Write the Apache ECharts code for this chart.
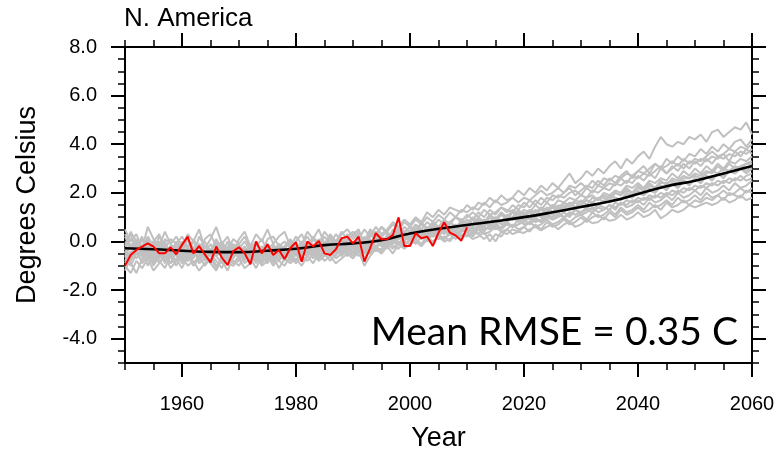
<!DOCTYPE html>
<html>
<head>
<meta charset="utf-8">
<script src="https://cdn.jsdelivr.net/npm/echarts@6/dist/echarts.min.js"></script>
<style>
  html, body { margin: 0; padding: 0; background: #fff; }
  #chart { width: 778px; height: 452px; }
</style>
</head>
<body>
<div id="chart"></div>
<script>
// observed annual anomaly, 1950-2010
const obsStart = 1950;
const obsValues = [
  -1.0, -0.56, -0.35, -0.21, -0.08, -0.21, -0.49, -0.49, -0.24, -0.53,
  -0.14, 0.2, -0.49, -0.19, -0.53, -0.86, -0.21, -0.67, -0.97, -0.4,
  -0.24, -0.49, -0.94, 0.0, -0.49, -0.12, -0.56, -0.35, -0.72, -0.28,
  -0.03, -0.83, 0.0, -0.21, 0.02, -0.49, -0.56, -0.32, 0.13, 0.2,
  -0.08, 0.2, -0.83, -0.28, 0.34, 0.09, 0.09, 0.27, 0.99, -0.19,
  -0.19, 0.34, 0.13, 0.2, -0.19, 0.36, 0.79, 0.36, 0.25, 0.03,
  0.58
];

// ensemble mean, every 5 years
const meanYears = [1950, 1955, 1960, 1965, 1970, 1975, 1980, 1985, 1990, 1995, 2000, 2005,
  2010, 2015, 2020, 2025, 2030, 2035, 2040, 2045, 2050, 2055, 2060];
const meanValues = [-0.28, -0.32, -0.38, -0.43, -0.44, -0.38, -0.3, -0.15, -0.08, 0.05, 0.33, 0.52,
  0.68, 0.83, 1.0, 1.2, 1.42, 1.64, 1.95, 2.27, 2.5, 2.8, 3.1];

// model members, annual 1950-2060
const memberStart = 1950;
const member01 = [
  -0.1,0.3,-0.4,-0.2,0.1,-0.5,-0.3,0.0,-0.6,-0.2, -0.5,0.1,-0.3,-0.7,-0.2,-0.4,0.0,-0.6,-0.3,-0.5,
  -0.2,-0.6,-0.1,-0.4,-0.8,-0.3,-0.1,-0.5,-0.2,0.1, -0.3,0.0,-0.4,0.1,-0.2,0.2,-0.1,0.3,0.0,0.2,
  0.4,0.1,0.5,0.2,0.6,0.3,0.5,0.8,0.6,0.9, 0.7,1.0,0.8,1.2,1.0,1.3,1.1,1.4,1.3,1.2,
  1.5,1.3,1.6,1.5,1.8,1.6,1.9,1.7,1.8,2.1, 1.9,2.2,2.0,2.3,2.1,2.4,2.2,2.5,2.8,2.4,
  2.6,2.9,2.7,3.0,2.8,3.1,3.3,3.0,3.4,3.2, 3.5,3.7,3.4,3.9,4.3,4.0,3.9,4.1,4.0,4.3,
  4.2,4.4,4.1,4.5,4.6,4.3,4.5,4.7,4.6,4.9, 4.4
];
const member02 = [
  -0.6,-0.2,-0.5,0.1,-0.3,-0.1,-0.7,-0.4,-0.2,-0.5, -0.1,-0.6,-0.4,-0.2,-0.8,-0.5,-0.3,-0.1,-0.6,-0.4,
  -0.7,-0.3,-0.5,-0.9,-0.2,-0.6,-0.4,-0.1,-0.5,-0.3, -0.5,-0.2,0.0,-0.4,-0.1,-0.3,0.1,-0.2,-0.4,0.0,
  -0.2,0.1,-0.1,0.3,0.0,0.2,0.4,0.1,0.5,0.3, 0.6,0.4,0.7,0.5,0.8,0.6,0.9,0.7,1.0,0.8,
  1.1,0.9,1.2,1.0,1.3,1.1,1.4,1.3,1.2,1.5, 1.4,1.7,1.5,1.8,1.6,1.9,1.8,2.0,2.2,1.9,
  2.1,2.3,2.2,2.5,2.3,2.6,2.4,2.7,2.9,2.6, 2.9,3.1,2.8,3.2,3.0,3.4,3.2,3.5,3.3,3.6,
  3.5,3.8,3.6,3.9,3.7,4.0,3.8,4.1,4.2,3.9, 4.2
];
const member03 = [
  0.2,-0.3,-0.1,-0.6,-0.3,0.0,-0.4,-0.8,-0.3,-0.1, -0.4,-0.7,0.1,-0.3,-0.5,-0.9,-0.4,-0.2,-0.6,-0.3,
  -0.5,-0.2,-0.8,-0.4,-0.6,-0.2,-0.7,-0.3,-0.5,-0.6, -0.2,-0.5,-0.3,-0.6,0.0,-0.3,-0.5,-0.1,0.1,-0.3,
  0.0,-0.3,0.2,-0.1,0.1,-0.2,0.3,0.0,0.4,0.2, 0.3,0.6,0.4,0.3,0.7,0.5,0.4,0.8,0.6,0.7,
  0.9,0.7,1.0,0.8,1.1,0.9,1.2,1.0,1.3,1.1, 1.3,1.2,1.5,1.3,1.6,1.4,1.7,1.6,1.8,1.7,
  1.9,1.8,2.1,2.0,2.2,2.1,2.4,2.3,2.5,2.4, 2.7,2.5,2.8,2.6,3.0,2.8,3.1,2.9,3.2,3.0,
  3.3,3.1,3.4,3.2,3.5,3.4,3.6,3.5,3.7,3.6, 3.8
];
const member04 = [
  -0.8,-0.4,-0.7,-0.3,-1.0,-0.5,-0.2,-0.6,-0.9,-0.4, -0.7,-0.3,-0.9,-0.6,-0.2,-0.5,-0.8,-1.1,-0.5,-0.7,
  -0.3,-0.6,-0.4,-0.7,-0.2,-0.5,-0.9,-0.4,-0.6,-0.2, -0.4,-0.7,-0.3,-0.5,-0.2,-0.6,-0.3,0.0,-0.4,-0.1,
  -0.3,0.0,-0.2,-0.4,0.1,-0.1,0.2,0.0,0.3,0.1, 0.4,0.2,0.5,0.3,0.6,0.4,0.7,0.5,0.4,0.8,
  0.6,0.9,0.7,0.6,1.0,0.8,1.1,0.9,1.2,1.0, 1.1,1.3,1.2,1.4,1.3,1.5,1.4,1.6,1.5,1.7,
  1.6,1.8,1.9,1.7,2.0,1.9,2.1,2.0,2.3,2.2, 2.4,2.2,2.5,2.4,2.6,2.5,2.8,2.6,2.9,2.7,
  3.0,2.8,3.1,2.9,3.2,3.0,3.3,3.2,3.4,3.3, 3.5
];
const member05 = [
  -0.3,-0.7,0.0,-0.5,-0.2,-0.8,-0.4,-0.1,-0.5,-0.8, -0.2,-0.5,-0.7,-0.1,-0.4,-0.6,-0.3,-0.5,0.0,-0.6,
  -0.4,-0.8,-0.3,-0.1,-0.5,-0.7,-0.2,-0.6,-0.4,-0.7, -0.1,-0.4,-0.6,-0.2,-0.5,0.0,-0.4,-0.2,-0.5,-0.2,
  -0.4,-0.1,-0.3,0.1,-0.2,0.0,-0.1,0.3,0.1,0.4, 0.2,0.5,0.3,0.6,0.4,0.3,0.6,0.4,0.7,0.5,
  0.8,0.6,0.8,0.9,0.7,1.0,0.8,1.1,0.9,1.0, 1.2,1.0,1.3,1.1,1.4,1.2,1.5,1.3,1.6,1.4,
  1.7,1.5,1.8,1.7,1.9,1.8,2.0,1.9,2.2,2.0, 2.3,2.1,2.4,2.2,2.5,2.3,2.6,2.5,2.7,2.6,
  2.8,2.7,2.9,2.8,3.1,2.9,3.2,3.0,3.1,3.2, 3.3
];
const member06 = [
  -0.5,-0.1,-0.4,-0.8,-0.3,-0.6,0.0,-0.3,-0.7,-0.2, -0.6,-0.4,-0.2,-0.8,-0.5,-0.1,-0.6,-0.4,-0.8,-0.2,
  -0.6,-0.4,-0.7,-0.5,-0.3,-0.8,-0.5,-0.2,-0.7,-0.4, -0.6,-0.3,-0.1,-0.5,-0.3,-0.4,-0.1,-0.4,-0.2,-0.5,
  -0.1,-0.3,0.0,-0.2,0.2,-0.1,0.1,-0.1,0.2,0.0, 0.3,0.1,0.4,0.2,0.3,0.5,0.3,0.6,0.5,0.4,
  0.7,0.5,0.6,0.8,0.6,0.9,0.7,0.8,1.0,0.8, 1.0,0.9,1.1,1.0,1.2,1.1,1.3,1.2,1.4,1.3,
  1.5,1.4,1.6,1.5,1.7,1.6,1.8,1.7,1.9,1.8, 2.0,1.9,2.1,2.0,2.3,2.1,2.4,2.2,2.5,2.3,
  2.6,2.4,2.7,2.5,2.8,2.6,2.9,2.8,3.0,2.9, 3.1
];
const member07 = [
  -0.9,-0.5,-0.2,-0.6,-0.4,-0.9,-0.5,-0.3,-0.6,-1.0, -0.5,-0.8,-0.4,-0.6,-1.0,-0.7,-0.5,-0.3,-0.7,-0.9,
  -0.8,-0.5,-0.9,-0.6,-0.4,-0.7,-0.3,-0.8,-0.5,-0.6, -0.3,-0.6,-0.4,-0.7,-0.4,-0.2,-0.5,-0.3,-0.6,-0.3,
  -0.5,-0.2,-0.4,-0.1,-0.3,0.1,-0.2,0.0,-0.1,0.2, 0.0,0.3,0.1,0.4,0.2,0.3,0.1,0.4,0.3,0.5,
  0.4,0.6,0.3,0.6,0.5,0.7,0.5,0.8,0.6,0.7, 0.9,0.7,0.9,0.8,1.0,0.9,1.1,1.0,1.2,1.1,
  1.2,1.3,1.2,1.4,1.3,1.5,1.4,1.6,1.5,1.7, 1.6,1.8,1.7,1.9,1.8,2.0,1.9,2.1,2.0,2.2,
  2.1,2.3,2.2,2.4,2.3,2.5,2.4,2.6,2.5,2.7, 2.8
];
const member08 = [
  0.3,-0.2,0.1,-0.3,0.0,-0.4,0.2,-0.2,-0.5,0.0, -0.3,0.1,-0.5,-0.2,0.0,-0.4,-0.1,-0.5,-0.2,-0.4,
  -0.1,-0.5,-0.2,-0.6,-0.3,-0.1,-0.4,-0.6,-0.2,-0.5, -0.2,-0.4,-0.1,-0.3,0.1,-0.2,-0.4,-0.1,-0.3,0.1,
  -0.1,0.2,0.0,-0.2,0.3,0.1,-0.1,0.2,0.4,0.1, 0.3,0.2,0.5,0.3,0.2,0.5,0.4,0.6,0.3,0.5,
  0.6,0.4,0.7,0.5,0.6,0.8,0.5,0.7,0.6,0.9, 0.7,0.8,1.0,0.8,1.1,0.9,1.0,1.2,1.0,1.3,
  1.1,1.2,1.4,1.2,1.3,1.5,1.3,1.6,1.4,1.5, 1.7,1.5,1.8,1.6,1.7,1.9,1.7,2.0,1.8,1.9,
  2.1,1.9,2.2,2.0,2.1,2.3,2.1,2.4,2.2,2.3, 2.5
];
const member09 = [
  -1.2,-0.7,-0.4,-0.9,-0.6,-0.3,-0.8,-1.1,-0.6,-0.4, -0.9,-0.6,-1.0,-0.7,-0.4,-0.9,-1.2,-0.7,-0.5,-0.8,
  -1.0,-0.6,-0.8,-0.5,-0.9,-0.6,-1.0,-0.7,-0.4,-0.8, -0.5,-0.8,-0.6,-0.3,-0.7,-0.5,-0.8,-0.5,-0.3,-0.6,
  -0.4,-0.6,-0.3,-0.5,-0.2,-0.4,-0.1,-0.3,0.0,-0.2, 0.1,-0.1,0.2,0.0,0.3,0.1,0.2,0.0,0.3,0.2,
  0.4,0.2,0.5,0.3,0.4,0.6,0.4,0.5,0.7,0.5, 0.6,0.8,0.6,0.7,0.9,0.7,0.8,1.0,0.8,1.0,
  1.1,0.9,1.2,1.0,1.1,1.3,1.1,1.4,1.2,1.3, 1.5,1.3,1.6,1.4,1.5,1.7,1.5,1.8,1.6,1.7,
  1.9,1.7,2.0,1.8,1.9,2.1,1.9,2.0,2.2,2.0, 2.2
];
const member10 = [
  -0.4,-0.9,-1.3,-0.7,-0.5,-1.0,-0.6,-0.4,-0.9,-0.7, -1.1,-0.6,-0.3,-0.9,-0.7,-0.5,-1.0,-0.8,-1.2,-0.6,
  -0.4,-0.9,-0.7,-1.1,-0.6,-0.9,-0.5,-0.8,-1.0,-0.6, -0.9,-0.6,-0.8,-0.5,-0.8,-0.6,-0.4,-0.7,-0.5,-0.4,
  -0.6,-0.3,-0.5,-0.2,-0.4,-0.3,0.0,-0.2,-0.3,0.0, -0.1,0.1,-0.1,0.2,0.0,0.2,0.1,0.3,0.1,0.3,
  0.2,0.4,0.3,0.1,0.3,0.0,0.4,0.3,0.5,0.4, 0.35,0.5,0.6,0.45,0.6,0.7,0.5,0.7,0.8,0.6,
  0.7,0.9,0.75,0.8,1.0,0.85,0.9,1.1,0.9,1.0, 1.2,1.0,1.1,1.3,0.95,1.1,1.3,1.2,1.3,1.5,
  1.4,1.5,1.6,1.5,1.6,1.8,1.6,1.7,1.9,1.7, 1.8
];
const member11 = [
  -0.2,0.4,0.0,-0.4,0.2,-0.2,-0.5,0.1,-0.1,-0.4, 0.0,-0.3,-0.6,0.2,-0.2,-0.4,0.1,-0.3,-0.5,-0.1,
  -0.3,0.0,-0.4,-0.2,0.1,-0.4,-0.6,-0.1,-0.3,0.0, -0.4,-0.1,0.2,-0.2,0.0,-0.3,0.2,0.0,-0.2,0.3,
  0.1,0.3,-0.1,0.2,0.4,0.2,0.0,0.5,0.3,0.6, 0.4,0.7,0.5,0.8,0.6,0.9,0.7,0.8,1.0,0.9,
  1.0,1.2,1.0,1.3,1.1,1.2,1.4,1.2,1.5,1.3, 1.6,1.4,1.7,1.5,1.8,1.7,1.9,1.8,2.0,2.1,
  1.9,2.2,2.0,2.3,2.2,2.4,2.3,2.6,2.4,2.7, 2.6,2.8,2.7,2.9,3.1,2.8,3.0,3.2,3.0,3.3,
  3.2,3.4,3.3,3.5,3.4,3.6,3.3,3.7,3.5,3.8, 3.6
];
const member12 = [
  -0.6,-1.0,-0.5,-0.2,-0.7,-0.4,-0.9,-0.5,-0.2,-0.6, -0.8,-0.2,-0.5,-0.4,-0.7,-0.3,-0.6,-0.9,-0.4,-0.2,
  -0.5,-0.7,-0.4,-0.3,-0.6,-0.2,-0.5,-0.4,-0.8,-0.3, -0.5,-0.2,-0.5,-0.1,-0.6,-0.4,-0.2,-0.5,-0.1,-0.3,
  -0.2,-0.4,0.1,-0.3,0.0,-0.2,0.2,-0.1,0.1,0.3, 0.1,0.3,0.2,0.1,0.4,0.2,0.5,0.3,0.2,0.4,
  0.5,0.3,0.6,0.4,0.7,0.5,0.6,0.8,0.6,0.7, 0.8,1.0,0.8,0.9,1.1,1.0,1.2,1.0,1.1,1.3,
  1.2,1.4,1.3,1.5,1.4,1.3,1.6,1.5,1.7,1.6, 1.8,1.7,1.9,1.8,2.0,1.9,2.1,2.0,2.2,2.1,
  2.3,2.2,2.4,2.3,2.5,2.4,2.6,2.5,2.7,2.5, 2.6
];
const member13 = [
  0.5,0.0,0.3,-0.3,0.6,0.1,-0.2,0.4,-0.1,0.2, -0.2,0.3,0.0,0.5,-0.3,0.1,0.6,-0.1,0.2,-0.4,
  0.1,0.4,-0.2,0.3,0.0,0.5,-0.1,0.2,0.4,-0.2, 0.2,-0.1,0.4,0.1,0.5,-0.1,0.3,0.0,0.4,0.1,
  0.3,0.5,-0.2,0.4,0.2,0.6,0.3,0.1,0.6,0.4, 0.6,0.4,0.8,0.5,0.7,0.4,0.8,0.6,0.5,0.9,
  0.7,1.0,0.8,0.7,1.1,0.9,1.2,0.9,1.0,1.3, 1.1,1.2,1.0,1.4,1.2,1.5,1.3,1.4,1.6,1.4,
  1.5,1.7,1.6,1.8,1.6,1.9,1.8,1.7,2.0,1.9, 2.1,1.9,2.2,2.0,2.3,2.2,2.4,2.2,2.5,2.4,
  2.6,2.4,2.7,2.6,2.8,2.7,2.9,2.8,3.0,2.8, 3.0
];
const member14 = [
  -1.0,-1.3,-0.8,-1.1,-0.7,-1.2,-0.9,-0.6,-1.1,-0.8, -0.6,-1.0,-0.8,-1.2,-0.9,-0.7,-1.1,-0.6,-0.9,-1.0,
  -0.7,-1.1,-0.9,-0.6,-1.0,-0.8,-0.6,-1.1,-0.7,-0.9, -0.7,-1.0,-0.6,-0.9,-0.5,-0.8,-0.6,-0.9,-0.7,-0.5,
  -0.7,-0.4,-1.0,-0.6,-0.3,-0.5,-0.2,-0.5,-0.1,-0.3, -0.1,0.0,-0.2,0.1,-0.1,0.2,0.0,0.1,0.3,0.1,
  0.3,0.1,0.2,0.4,0.0,0.3,0.2,0.5,0.3,0.4, 0.6,0.4,0.7,0.5,0.8,0.6,0.7,0.9,0.7,0.8,
  1.0,0.8,1.0,1.1,0.9,1.2,1.0,1.3,1.1,1.2, 1.4,1.2,1.3,1.5,1.3,1.6,1.4,1.5,1.7,1.5,
  1.7,1.6,1.8,1.7,1.9,1.7,2.0,1.9,1.8,2.1, 2.0
];
const member15 = [
  -0.3,0.1,-0.2,0.2,-0.4,0.0,0.3,-0.3,0.1,-0.1, 0.2,-0.2,0.0,-0.5,0.1,0.3,-0.2,0.0,-0.4,0.1,
  -0.1,0.2,-0.3,0.0,-0.5,0.1,0.2,-0.2,0.0,-0.3, 0.0,0.3,-0.2,0.2,-0.1,0.4,0.1,-0.1,0.3,0.5,
  0.2,0.4,0.0,0.5,0.3,0.6,0.4,0.7,0.5,0.8, 0.6,0.9,0.7,1.0,0.8,1.1,0.9,1.2,1.0,1.3,
  1.2,1.4,1.3,1.6,1.4,1.7,1.5,1.6,1.8,1.6, 1.8,1.7,1.9,2.1,1.9,2.0,2.2,2.0,2.3,2.2,
  2.4,2.2,2.5,2.3,2.6,2.5,2.7,2.6,2.8,2.7, 2.9,2.8,3.0,3.2,3.0,3.1,3.3,3.1,3.4,3.2,
  3.4,3.3,3.5,3.7,3.5,3.6,3.8,3.7,3.9,3.8, 4.0
];
const member16 = [
  -0.4,-0.8,-0.3,-0.6,-0.1,-0.7,-0.4,-0.9,-0.3,-0.5, -0.3,-0.8,-0.5,-0.2,-0.6,-0.8,-0.3,-0.6,-0.4,-0.9,
  -0.6,-0.2,-0.6,-0.8,-0.4,-0.5,-0.8,-0.3,-0.6,-0.5, -0.8,-0.4,-0.6,-0.3,-0.7,-0.2,-0.5,-0.6,-0.2,-0.4,
  -0.1,-0.4,-0.7,-0.2,-0.3,0.0,-0.3,0.1,-0.1,0.1, 0.2,0.4,0.2,0.5,0.3,0.6,0.4,0.3,0.6,0.5,
  0.7,0.6,0.9,0.7,0.8,1.0,0.8,1.1,0.9,1.2, 1.0,1.2,1.1,1.3,1.2,1.4,1.3,1.5,1.4,1.6,
  1.5,1.7,1.6,1.8,1.8,1.7,2.0,1.9,2.1,2.0, 2.2,2.1,2.3,2.2,2.4,2.4,2.5,2.4,2.6,2.6,
  2.7,2.6,2.8,2.9,2.8,3.0,2.9,3.1,3.0,3.2, 3.2
];
const members = [member01, member02, member03, member04, member05, member06, member07, member08,
  member09, member10, member11, member12, member13, member14, member15, member16];

// axis ticks
const xMajorTicks = [1960, 1980, 2000, 2020, 2040, 2060];
const yMajorTicks = [-4, -2, 0, 2, 4, 6, 8];

const chart = echarts.init(document.getElementById('chart'));
const labelFont = "'Liberation Sans', Arial, Helvetica, sans-serif";

function pairs(start, values) {
  return values.map((v, i) => [start + i, v]);
}

function minorAxis(pos, extra) {
  return Object.assign({
    type: 'value', position: pos,
    axisLine: { show: true, onZero: false, lineStyle: { color: '#000', width: 2 } },
    axisTick: { show: true, length: 7, lineStyle: { color: '#000', width: 1.5 } },
    axisLabel: { show: false },
    splitLine: { show: false }
  }, extra);
}

function majorAxis(pos, ticks, showLabel, fmt, margin, extra) {
  return Object.assign({
    type: 'value', position: pos,
    axisLine: { show: false, onZero: false },
    axisTick: { show: true, customValues: ticks, length: 14, lineStyle: { color: '#000', width: 2 } },
    axisLabel: {
      show: showLabel, customValues: ticks, formatter: fmt, margin: margin,
      color: '#000', fontSize: 20, fontFamily: labelFont
    },
    splitLine: { show: false }
  }, extra);
}

const xRange = { min: 1950, max: 2060 };
const yRange = { min: -5, max: 8 };
const nameStyle = { color: '#000', fontSize: 27, fontFamily: labelFont };

const graySeries = members.map((m) => ({
  type: 'line', data: pairs(memberStart, m),
  showSymbol: false, silent: true,
  lineStyle: { color: '#c0c0c0', width: 2 },
  z: 1
}));

chart.setOption({
  animation: false,
  backgroundColor: '#fff',
  grid: { left: 125, right: 26, top: 47, bottom: 89, outerBoundsMode: 'none' },
  xAxis: [
    minorAxis('bottom', Object.assign({ interval: 5,
      name: 'Year', nameLocation: 'middle', nameGap: 62, nameTextStyle: nameStyle }, xRange)),
    majorAxis('bottom', xMajorTicks, true, (v) => String(v), 31, xRange),
    minorAxis('top', Object.assign({ interval: 5 }, xRange)),
    majorAxis('top', xMajorTicks, false, null, 8, xRange)
  ],
  yAxis: [
    minorAxis('left', Object.assign({ interval: 0.5,
      name: 'Degrees Celsius', nameLocation: 'middle', nameGap: 84, nameRotate: 90,
      nameTextStyle: nameStyle }, yRange)),
    majorAxis('left', yMajorTicks, true, (v) => v.toFixed(1), 28, yRange),
    minorAxis('right', Object.assign({ interval: 0.5 }, yRange)),
    majorAxis('right', yMajorTicks, false, null, 8, yRange)
  ],
  series: graySeries.concat([
    {
      type: 'line', data: meanYears.map((y, i) => [y, meanValues[i]]),
      smooth: true, showSymbol: false, silent: true,
      lineStyle: { color: '#000', width: 2.6 }, z: 3
    },
    {
      type: 'line', data: pairs(obsStart, obsValues),
      showSymbol: false, silent: true,
      lineStyle: { color: '#ff0000', width: 2 }, z: 4
    }
  ]),
  graphic: [
    {
      type: 'text', left: 124, top: 6,
      style: { text: 'N. America', fill: '#000', font: "26px " + labelFont }
    },
    {
      type: 'text', right: 40, top: 313,
      style: { text: 'Mean RMSE = 0.35 C', fill: '#000', font: "39px Lato, 'Open Sans', sans-serif" }
    }
  ]
});
</script>
</body>
</html>
